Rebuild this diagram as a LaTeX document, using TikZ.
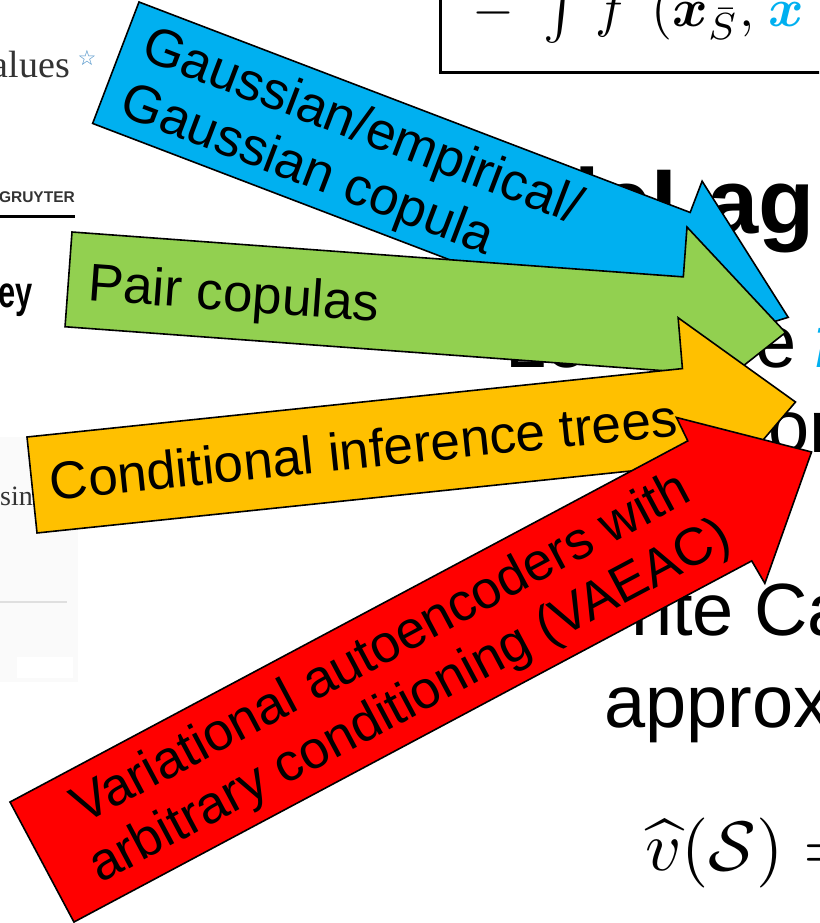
\documentclass[tikz,border=0pt]{standalone}
\usepackage{fontspec}
\usepackage{amsmath}
\setmainfont{Liberation Sans}
\newfontfamily\bgserif{Liberation Serif}
\newfontfamily\bgsym{DejaVu Sans}
\definecolor{pptblue}{HTML}{00B0F0}
\definecolor{pptgreen}{HTML}{92D050}
\definecolor{pptorange}{HTML}{FFC000}
\definecolor{pptred}{HTML}{FF0000}
\definecolor{pagegray}{HTML}{FAFAFA}
\definecolor{inkgray}{HTML}{333333}
\definecolor{starblue}{HTML}{4A90C8}

\begin{document}
\begin{tikzpicture}[x=1pt, y=1pt,
    arrowshape/.style={draw=black, line width=1.6pt, line join=miter},
    arrowtext/.style={inner sep=0pt, font=\fontsize{53}{60}\selectfont},
    slidetext/.style={inner sep=0pt, font=\fontsize{74}{85}\selectfont}]
    \useasboundingbox (0,0) rectangle (819,-923) ;
    \clip (0,0) rectangle (819,-923) ;
    \fill[white] (0,0) rectangle (819,-923) ;

    % the slide underneath
    \fill[pagegray] (0,-437) rectangle (78,-682) ;
    \fill[white] (17,-657) rectangle (73,-678) ;
    \draw[gray!25, line width=1.5pt] (0,-602) -- (67,-602) ;
    \node[anchor=base east, inner sep=0pt, font=\bgserif\fontsize{38}{40}\selectfont, text=inkgray] (values) at (70,-78) {alues} ;
    \node[inner sep=0pt, font=\bgsym\fontsize{21}{21}\selectfont, text=starblue] (star) at (87,-58) {☆} ;
    \node[anchor=base east, inner sep=0pt, font=\bfseries\fontsize{15.5}{16}\selectfont, text=inkgray] (publisher) at (75,-202) {GRUYTER} ;
    \draw[line width=3pt] (0,-216) -- (75,-216) ;
    \node[anchor=base east, inner sep=0pt, font=\bfseries\fontsize{44}{44}\selectfont] (title) at (33,-307) {\scalebox{0.7}[1]{ey}} ;
    \node[anchor=base east, inner sep=0pt, font=\bgserif\fontsize{28}{28}\selectfont, text=inkgray] (using) at (33,-505) {sin} ;

    \draw[line width=3pt] (440,10) -- (440,-73) -- (830,-73) ;
    \node[anchor=base west, inner sep=0pt] (formula) at (472,-27) {\scalebox{5.4}{$-\hspace{3.7pt}\int\hspace{1.3pt} f\hspace{4.4pt}(\boldsymbol{x}_{\bar{S}},\hspace{1pt}{\color{pptblue}\boldsymbol{x}}$}} ;
    \node[anchor=base east, inner sep=0pt, font=\bfseries\fontsize{92}{100}\selectfont] (heading) at (815,-233) {leLag} ;
    \node[slidetext, anchor=base west] (lo) at (505,-367) {Lo} ;
    \node[slidetext, anchor=base west] (e) at (755,-367) {e} ;
    \node[slidetext, anchor=base west, text=pptblue] (f) at (814,-367) {\textit{f}} ;
    \node[slidetext, anchor=base west] (on) at (768,-452) {on} ;
    \node[slidetext, anchor=base west] (monte) at (631,-635) {nte Ca} ;
    \node[slidetext, anchor=base west] (approx) at (604,-727) {approx} ;
    \node[anchor=base west, inner sep=0pt] (vhat) at (645,-870) {\scalebox{7}{$\widehat{v}(\mathcal{S}) =$}} ;

    % blue
    \begin{scope}[shift={(139,-2)}, rotate=-20.9]
      \draw[arrowshape, fill=pptblue] (0,0) -- (590,0) -- (590,33.5) -- (719,-63) -- (590,-163.5) -- (590,-130) -- (0,-130) -- cycle ;
      \node[arrowtext, anchor=north west, align=left, rotate=-20.9] (gaussian) at (20,-14) {Gaussian/empirical/\\Gaussian copula} ;
    \end{scope}

    % green
    \begin{scope}[shift={(72,-232)}, rotate=-4.2]
      \draw[arrowshape, fill=pptgreen] (0,0) -- (613,0) -- (613,50) -- (719,-48) -- (613,-145) -- (613,-95) -- (0,-95) -- cycle ;
      \node[arrowtext, anchor=base west, rotate=-4.2] (pair) at (20,-67) {Pair copulas} ;
    \end{scope}

    % yellow
    \begin{scope}[shift={(27,-437)}, rotate=5.96]
      \draw[arrowshape, fill=pptorange] (0,0) -- (659,0) -- (660,51) -- (768,-45) -- (660,-147.5) -- (659,-96.5) -- (0,-96.5) -- cycle ;
      \node[arrowtext, anchor=base west, rotate=5.96] (trees) at (18,-66) {Conditional inference trees} ;
    \end{scope}

    % red
    \begin{scope}[shift={(10,-802)}, rotate=28.05]
      \draw[arrowshape, fill=pptred] (0,0) -- (768,0) -- (769,26) -- (872,-68) -- (769,-162) -- (768,-136) -- (0,-136) -- cycle ;
      \node[arrowtext, align=center, rotate=28.05] (vaeac) at (400,-71) {Variational autoencoders with\\arbitrary conditioning (VAEAC)} ;
    \end{scope}
\end{tikzpicture}
\end{document}
